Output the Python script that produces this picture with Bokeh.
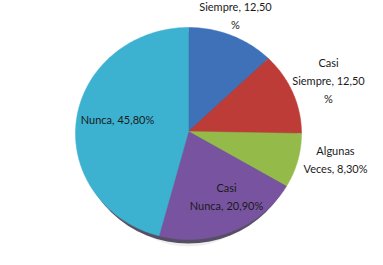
import math
from bokeh.plotting import figure
from bokeh.models import ColumnDataSource, Range1d
from bokeh.core.properties import value
from bokeh.embed import file_html
from bokeh.resources import INLINE

categories = ["Siempre", "Casi Siempre", "Algunas Veces", "Casi Nunca", "Nunca"]
percents = [12.50, 12.50, 8.30, 20.90, 45.80]
label_texts = ["Siempre, 12,50\n%", "Casi\nSiempre, 12,50\n%", "Algunas\nVeces, 8,30%",
               "Casi\nNunca, 20,90%", "Nunca, 45,80%"]
colors = ["#3e71b8", "#bd3c38", "#94bb4a", "#7854a0", "#3cb2d0"]

W, H = 383, 265
# layout (pixel space, y measured from top)
CX, CY_TOP = 188, 131
RX, RY = 113, 106
ELL_CY_TOP = 133
label_pos_top = [(235, 15), (328, 80), (335, 159), (226, 196), (117, 119)]

def fy(y_top):
    return H - y_top

total = sum(percents)
xs, ys = [], []
acc = 0.0
for v in percents:
    a0 = math.pi / 2 - 2 * math.pi * acc / total
    acc += v
    a1 = math.pi / 2 - 2 * math.pi * acc / total
    n = max(8, int(abs(a0 - a1) * 60))
    px = [CX]
    py = [fy(CY_TOP)]
    for k in range(n + 1):
        t = a0 + (a1 - a0) * k / n
        px.append(CX + RX * math.cos(t))
        py.append(fy(ELL_CY_TOP) + RY * math.sin(t))
    xs.append(px)
    ys.append(py)

src = ColumnDataSource(dict(xs=xs, ys=ys, color=colors, cat=categories))
lsrc = ColumnDataSource(dict(x=[p_[0] for p_ in label_pos_top],
                             y=[fy(p_[1]) for p_ in label_pos_top], t=label_texts))

p = figure(width=W, height=H, output_backend="svg", toolbar_location=None,
           x_range=Range1d(0, W), y_range=Range1d(0, H), min_border=0)
p.axis.visible = False
p.grid.visible = False
p.outline_line_color = None
p.background_fill_color = "white"

# soft shadow and thin dark rim under the pie
p.ellipse(x=CX, y=fy(ELL_CY_TOP + 7), width=2 * RX - 40, height=2 * RY,
          fill_color="#bbbbbb", line_color=None, fill_alpha=0.25)
p.ellipse(x=CX, y=fy(ELL_CY_TOP + 4), width=2 * RX - 8, height=2 * RY,
          fill_color="#2f2642", line_color=None, fill_alpha=0.8)
p.patches(xs="xs", ys="ys", fill_color="color", line_color="color", line_width=0.5, source=src)
p.text(x="x", y="y", text="t", source=lsrc, text_align="center", text_baseline="middle",
       text_font=value("Lato"), text_font_size="11px", text_color="#1a1a1a",
       text_line_height=1.38)

open("out.html", "w").write(file_html(p, INLINE))
